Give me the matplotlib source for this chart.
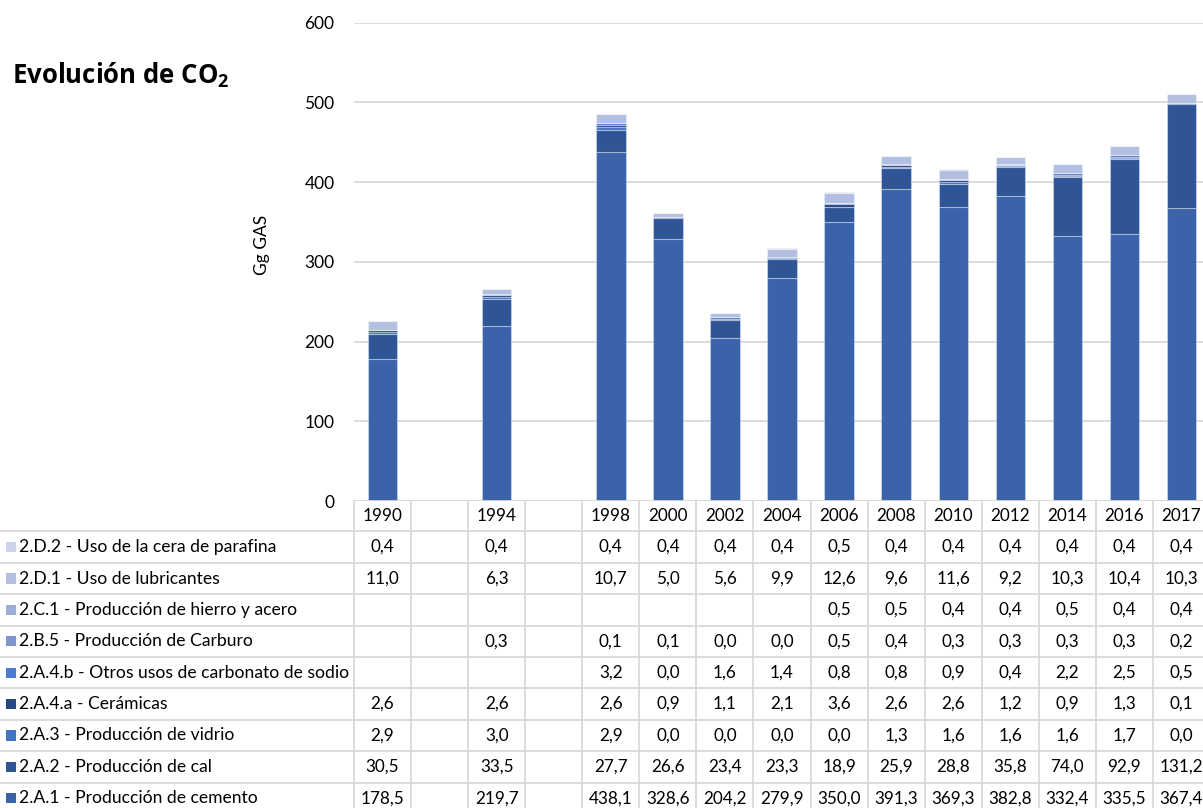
import numpy as np
import matplotlib
matplotlib.use("Agg")
import matplotlib.pyplot as plt

plt.rcParams['font.family'] = ['Lato', 'DejaVu Sans']
plt.rcParams['mathtext.fontset'] = 'custom'
plt.rcParams['mathtext.rm'] = 'Open Sans'
plt.rcParams['mathtext.bf'] = 'Open Sans:bold'

# categorias (columnas vacias entre 1990-1994 y 1994-1998)
years = ["1990", "", "1994", "", "1998", "2000", "2002", "2004", "2006",
         "2008", "2010", "2012", "2014", "2016", "2017"]

nan = np.nan
cemento = [178.5, nan, 219.7, nan, 438.1, 328.6, 204.2, 279.9, 350.0, 391.3, 369.3, 382.8, 332.4, 335.5, 367.4]
cal = [30.5, nan, 33.5, nan, 27.7, 26.6, 23.4, 23.3, 18.9, 25.9, 28.8, 35.8, 74.0, 92.9, 131.2]
vidrio = [2.9, nan, 3.0, nan, 2.9, 0.0, 0.0, 0.0, 0.0, 1.3, 1.6, 1.6, 1.6, 1.7, 0.0]
ceramicas = [2.6, nan, 2.6, nan, 2.6, 0.9, 1.1, 2.1, 3.6, 2.6, 2.6, 1.2, 0.9, 1.3, 0.1]
carbonato = [nan, nan, nan, nan, 3.2, 0.0, 1.6, 1.4, 0.8, 0.8, 0.9, 0.4, 2.2, 2.5, 0.5]
carburo = [nan, nan, 0.3, nan, 0.1, 0.1, 0.0, 0.0, 0.5, 0.4, 0.3, 0.3, 0.3, 0.3, 0.2]
hierro = [nan, nan, nan, nan, nan, nan, nan, nan, 0.5, 0.5, 0.4, 0.4, 0.5, 0.4, 0.4]
lubricantes = [11.0, nan, 6.3, nan, 10.7, 5.0, 5.6, 9.9, 12.6, 9.6, 11.6, 9.2, 10.3, 10.4, 10.3]
parafina = [0.4, nan, 0.4, nan, 0.4, 0.4, 0.4, 0.4, 0.5, 0.4, 0.4, 0.4, 0.4, 0.4, 0.4]

# orden de apilado (de abajo hacia arriba)
series = [
    ("2.A.1 - Producción de cemento", cemento, "#3A63A9"),
    ("2.A.2 - Producción de cal", cal, "#2F5597"),
    ("2.A.3 - Producción de vidrio", vidrio, "#4472C4"),
    ("2.A.4.a - Cerámicas", ceramicas, "#284784"),
    ("2.A.4.b - Otros usos de carbonato de sodio", carbonato, "#4A7BD1"),
    ("2.B.5 - Producción de Carburo", carburo, "#7F95CE"),
    ("2.C.1 - Producción de hierro y acero", hierro, "#9DAED9"),
    ("2.D.1 - Uso de lubricantes", lubricantes, "#B3BFE1"),
    ("2.D.2 - Uso de la cera de parafina", parafina, "#CBD2EA"),
]

W, H = 1203, 808
fig = plt.figure(figsize=(W / 100, H / 100), dpi=100)

col_w = 57.07
x0 = 354
n = len(years)
x = np.arange(n)

# grafico de barras
ax = fig.add_axes([x0 / W, (H - 501) / H, n * col_w / W, (501 - 22.7) / H])
bottom = np.zeros(n)
for name, vals, color in series:
    v = np.nan_to_num(np.array(vals, dtype=float))
    ax.bar(x, v, 0.515, bottom=bottom, color=color,
           edgecolor=(1, 1, 1, 0.35), linewidth=0.8, zorder=3)
    bottom += v

ax.set_xlim(-0.5, n - 0.5)
ax.set_ylim(0, 600)
ax.set_yticks(range(0, 601, 100))
ax.set_xticks([])
ax.grid(axis='y', color='#D9D9D9', linewidth=1.3, zorder=0)
for s in ax.spines.values():
    s.set_visible(False)
ax.tick_params(axis='y', length=0, pad=14)
for lbl in ax.get_yticklabels():
    lbl.set_fontfamily(['Liberation Sans Narrow', 'Lato'])
    lbl.set_fontsize(12.5)

fig.text(262 / W, 1 - 245 / H, "Gg GAS", rotation=90, ha='center', va='center', fontsize=12.5)

fig.text(12 / W, 1 - 84 / H, r"Evolución de CO$_\mathbf{2}$", fontsize=18.5,
         fontweight='bold', family='Open Sans', ha='left', va='baseline')

# tabla de datos
row_h = 31.4
lab_cols = x0 / col_w
ax_t = fig.add_axes([0, 0, (x0 + n * col_w) / W, (H - 500) / H])
ax_t.set_xlim(-0.5 - lab_cols, n - 0.5)
ax_t.set_ylim((H - 500) / row_h, 0)
ax_t.axis('off')

grid_c = '#D9D9D9'
nrows = len(series) + 1
ax_t.hlines(0, -0.5, n - 0.5, color=grid_c, linewidth=1.3)
for r in range(1, nrows + 1):
    ax_t.hlines(r, -0.5 - lab_cols, n - 0.5, color=grid_c, linewidth=1.3)
for c in range(n + 1):
    ax_t.vlines(c - 0.5, 0, (H - 500) / row_h, color=grid_c, linewidth=1.3)

for i, yr in enumerate(years):
    ax_t.text(i, 0.5, yr, ha='center', va='center', fontsize=12.3)

for r, (name, vals, color) in enumerate(series[::-1]):
    yc = r + 1.5
    ax_t.add_patch(plt.Rectangle((-0.5 - lab_cols + 6 / col_w, yc - 0.16), 10 / col_w, 0.32,
                                 facecolor=color, edgecolor='none'))
    ax_t.text(-0.5 - lab_cols + 19 / col_w, yc, name, ha='left', va='center', fontsize=12.6)
    for i, v in enumerate(vals):
        if not np.isnan(v):
            ax_t.text(i, yc, f"{v:.1f}".replace('.', ','), ha='center', va='center', fontsize=12.3)

fig.savefig("out.png", dpi=100)
